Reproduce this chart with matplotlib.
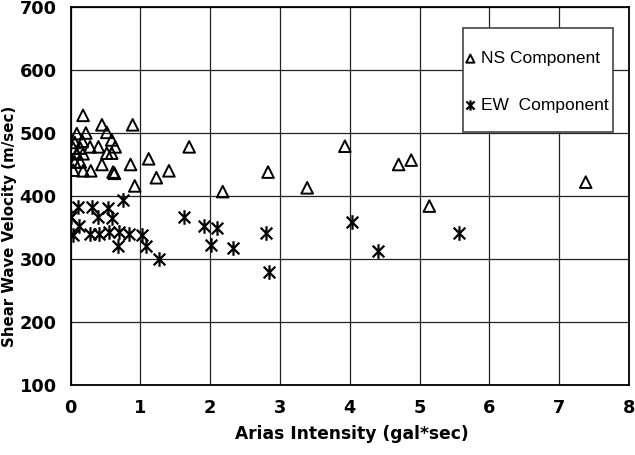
import matplotlib
matplotlib.use("Agg")
import matplotlib.pyplot as plt
from matplotlib.path import Path
from matplotlib.patches import Rectangle

# NS component (triangles)
ns_x = [0.18, 0.45, 0.89, 0.09, 0.22, 0.52, 0.59, 0.06, 0.17, 0.04, 0.14, 0.28, 0.40, 0.64,
        0.52, 0.59, 0.09, 0.18, 0.06, 0.14, 0.04, 0.18, 0.29, 0.45, 0.61, 0.63, 0.86, 0.92,
        1.12, 1.70, 1.23, 1.41, 2.18, 2.83, 3.39, 3.93, 4.70, 4.88, 5.14, 7.38]
ns_y = [528, 513, 513, 499, 500, 501, 489, 485, 487, 476, 476, 478, 478, 478,
        468, 468, 467, 467, 454, 454, 441, 440, 440, 450, 438, 436, 450, 416,
        459, 478, 429, 440, 407, 438, 413, 479, 450, 457, 384, 422]

# EW component (asterisks)
ew_x = [0.11, 0.31, 0.54, 0.75, 0.01, 0.39, 0.59, 0.12, 0.04, 0.28, 0.41, 0.55, 0.69, 0.84,
        1.02, 0.68, 1.08, 1.27, 1.62, 1.91, 2.10, 2.01, 2.33, 2.80, 2.85, 4.03, 4.41, 5.57]
ew_y = [383, 383, 381, 393, 366, 366, 365, 352, 338, 339, 339, 343, 343, 339,
        338, 320, 320, 300, 366, 353, 349, 322, 317, 341, 280, 358, 312, 341]

x_ticks = [0, 1, 2, 3, 4, 5, 6, 7, 8]
y_ticks = [100, 200, 300, 400, 500, 600, 700]

# asterisk: X with a vertical bar
star = Path([(0, -1), (0, 1), (-0.8, -0.8), (0.8, 0.8), (-0.8, 0.8), (0.8, -0.8)],
            [Path.MOVETO, Path.LINETO, Path.MOVETO, Path.LINETO, Path.MOVETO, Path.LINETO])

W, H = 635, 455
fig = plt.figure(figsize=(W / 100, H / 100), dpi=100)
ax = fig.add_axes([70.5 / W, 1 - 385 / H, (629 - 70.5) / W, (385 - 7) / H])

ax.scatter(ns_x, ns_y, marker="^", s=70, facecolors="none", edgecolors="black",
           linewidths=1.4, label="NS Component", zorder=3)
ax.scatter(ew_x, ew_y, marker=star, s=110, color="black", linewidths=1.6,
           label="EW  Component", zorder=3)

ax.set_xlim(0, 8)
ax.set_ylim(100, 700)
ax.set_xticks(x_ticks)
ax.set_yticks(y_ticks)
ax.grid(True, color="#222222", linewidth=0.9)
ax.set_axisbelow(True)
for s in ax.spines.values():
    s.set_linewidth(1.3)
ax.tick_params(length=0, labelsize=12.8, pad=10)
for lab in ax.get_xticklabels() + ax.get_yticklabels():
    lab.set_fontweight("bold")
    lab.set_family("DejaVu Sans")

ax.set_xlabel("Arias Intensity (gal*sec)", fontsize=12.3, fontweight="bold",
              family="DejaVu Sans")
ax.xaxis.set_label_coords(0.504, -0.105)
ax.set_ylabel("Shear Wave Velocity (m/sec)", fontsize=10.8, fontweight="bold",
              family="DejaVu Sans")
ax.yaxis.set_label_coords(-0.095, 0.42)

# legend box
ax.add_patch(Rectangle((463 / W, 1 - 132 / H), 150 / W, 104 / H, transform=fig.transFigure,
                       facecolor="white", edgecolor="#444444", linewidth=1.2,
                       zorder=4, clip_on=False))
leg = ax.legend(loc="upper left", bbox_to_anchor=(466 / W, 1 - 51 / H),
                bbox_transform=fig.transFigure, frameon=False, markerscale=0.7,
                handlelength=0.5, handletextpad=0.35, labelspacing=1.82,
                borderpad=0, borderaxespad=0,
                prop={"family": "Liberation Sans", "size": 12.5})
leg.set_zorder(5)

fig.savefig("out.png", dpi=100)
